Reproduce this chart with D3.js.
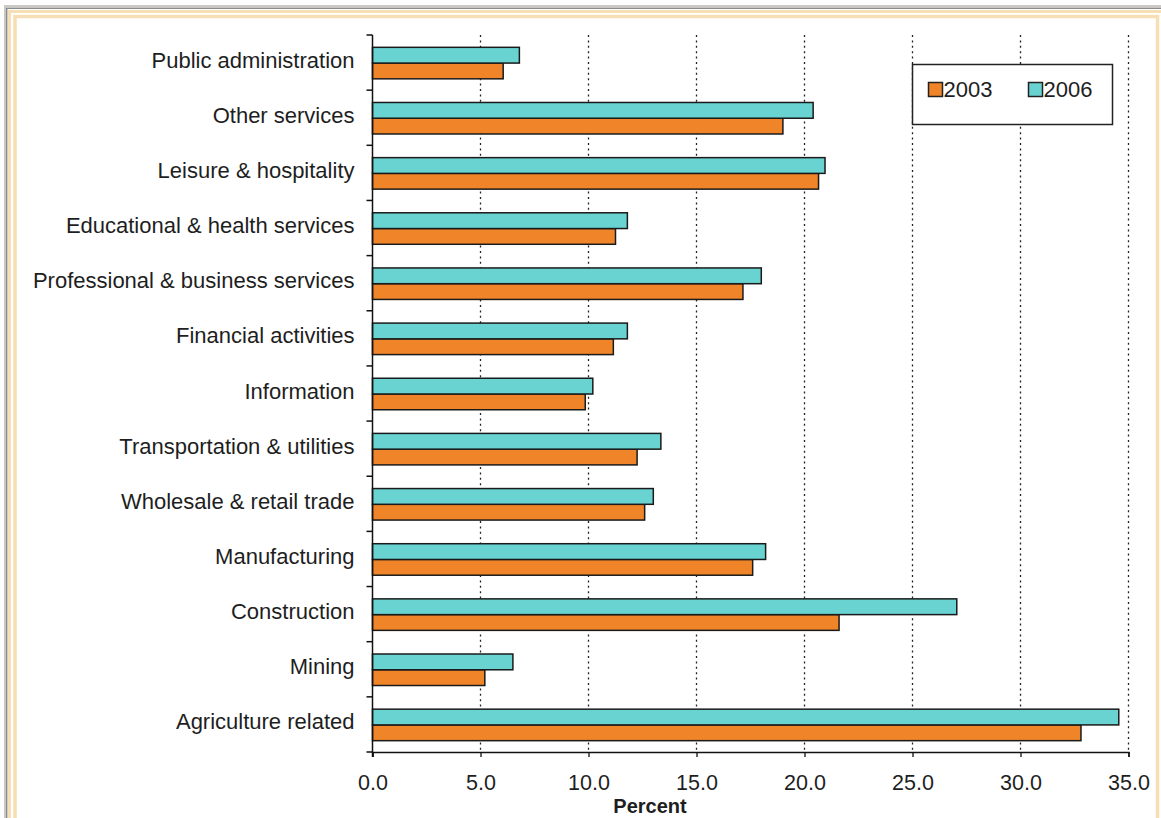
<!doctype html>
<html lang="en">
<head>
<meta charset="utf-8">
<title>Percent by industry, 2003 and 2006</title>
<script src="https://cdn.jsdelivr.net/npm/d3@7"></script>
<style>
  body { margin: 0; background: #fff; }
  svg { display: block; font-family: "Liberation Sans", Arial, sans-serif; }
</style>
</head>
<body>
<svg id="chart" width="1161" height="818"></svg>
<script>
// categories, top to bottom as drawn
const categories = [
  "Public administration", "Other services", "Leisure & hospitality",
  "Educational & health services", "Professional & business services",
  "Financial activities", "Information", "Transportation & utilities",
  "Wholesale & retail trade", "Manufacturing", "Construction", "Mining",
  "Agriculture related"
];
const years = ["2003", "2006"];
const values2003 = [6.05, 19.0, 20.65, 11.25, 17.15, 11.15, 9.85, 12.25, 12.6, 17.6, 21.6, 5.2, 32.8];
const values2006 = [6.8, 20.4, 20.95, 11.8, 18.0, 11.8, 10.2, 13.35, 13.0, 18.2, 27.05, 6.5, 34.55];
const xTicks = [0, 5, 10, 15, 20, 25, 30, 35];

const colors = { "2003": "#EF8428", "2006": "#69D3D2" };

const svg = d3.select("#chart");

// page frame (gray edge + double beige border)
const frame = svg.append("g");
frame.append("path").attr("d", "M5,818V6H1161").attr("fill", "none").attr("stroke", "#ccc8c3").attr("stroke-width", 2);
frame.append("path").attr("d", "M6.7,818V8.2H1161").attr("fill", "none").attr("stroke", "#8c8c8c").attr("stroke-width", 1.5);
frame.append("path").attr("d", "M9.5,818V11.5H1162").attr("fill", "none").attr("stroke", "#F6DFB5").attr("stroke-width", 3);
frame.append("path").attr("d", "M15,818V16.5H1157.5V818").attr("fill", "none").attr("stroke", "#F6DFB5").attr("stroke-width", 3.5);

const plotLeft = 372.5, plotRight = 1128.5, plotTop = 35, plotBottom = 752;

const x = d3.scaleLinear().domain([0, 35]).range([plotLeft, plotRight]);
const y = d3.scaleBand().domain(categories).range([plotTop, plotBottom]);
const inner = d3.scaleBand().domain(["2006", "2003"]).range([0, 31.5]);
const offset = (y.bandwidth() - 31.5) / 2 + 0.5;

// dotted gridlines
svg.append("g")
  .selectAll("line")
  .data(xTicks.slice(1))
  .join("line")
  .attr("x1", d => x(d)).attr("x2", d => x(d))
  .attr("y1", plotTop).attr("y2", plotBottom)
  .attr("stroke", "#222")
  .attr("stroke-width", 1.3)
  .attr("stroke-dasharray", "2,3.4");

// bars
const rows = categories.map((c, i) => ({ c, v2003: values2003[i], v2006: values2006[i] }));
const groups = svg.append("g").selectAll("g")
  .data(rows)
  .join("g")
  .attr("transform", d => `translate(0,${y(d.c) + offset})`);

years.forEach(yr => {
  groups.append("rect")
    .attr("x", x(0))
    .attr("y", inner(yr))
    .attr("width", d => x(d["v" + yr]) - x(0))
    .attr("height", inner.bandwidth())
    .attr("fill", colors[yr])
    .attr("stroke", "#1a1a1a")
    .attr("stroke-width", 1.5);
});

// y axis
const yAxis = svg.append("g")
  .attr("transform", `translate(${plotLeft},0)`);
yAxis.append("line").attr("x1", 0).attr("x2", 0).attr("y1", plotTop).attr("y2", plotBottom + 5)
  .attr("stroke", "#111").attr("stroke-width", 1.5);
yAxis.selectAll("line.tick")
  .data(d3.range(categories.length + 1))
  .join("line")
  .attr("class", "tick")
  .attr("x1", -6).attr("x2", 0)
  .attr("y1", i => plotTop + i * y.step()).attr("y2", i => plotTop + i * y.step())
  .attr("stroke", "#111").attr("stroke-width", 1.5);
yAxis.selectAll("text")
  .data(categories)
  .join("text")
  .attr("x", -18)
  .attr("y", d => y(d) + y.bandwidth() / 2 - 2.5)
  .attr("text-anchor", "end")
  .attr("dominant-baseline", "central")
  .attr("font-size", 22)
  .attr("fill", "#1e1e1e")
  .text(d => d);

// x axis
const xAxis = svg.append("g")
  .attr("transform", `translate(0,${plotBottom})`)
  .call(d3.axisBottom(x).tickValues(xTicks).tickFormat(d3.format(".1f")).tickSize(5).tickPadding(18));
xAxis.select(".domain").attr("stroke", "#111").attr("stroke-width", 1.5);
xAxis.selectAll(".tick line").attr("stroke", "#111").attr("stroke-width", 1.3);
xAxis.selectAll(".tick text")
  .attr("font-size", 21.5)
  .attr("font-family", "Liberation Sans, Arial, sans-serif")
  .attr("fill", "#1e1e1e");

svg.append("text")
  .attr("x", 650)
  .attr("y", 813)
  .attr("text-anchor", "middle")
  .attr("font-size", 20)
  .attr("font-weight", "bold")
  .attr("fill", "#1e1e1e")
  .text("Percent");

// legend
const legend = svg.append("g").attr("transform", "translate(912.5,64.5)");
legend.append("rect").attr("width", 200).attr("height", 60)
  .attr("fill", "#fff").attr("stroke", "#222").attr("stroke-width", 1.5);
years.forEach((yr, i) => {
  const g = legend.append("g").attr("transform", `translate(${16 + i * 100},18)`);
  g.append("rect").attr("width", 14).attr("height", 14)
    .attr("fill", colors[yr]).attr("stroke", "#222").attr("stroke-width", 1.5);
  g.append("text").attr("x", 15).attr("y", 7).attr("dominant-baseline", "central")
    .attr("font-size", 22).attr("fill", "#1e1e1e").text(yr);
});
</script>
</body>
</html>
